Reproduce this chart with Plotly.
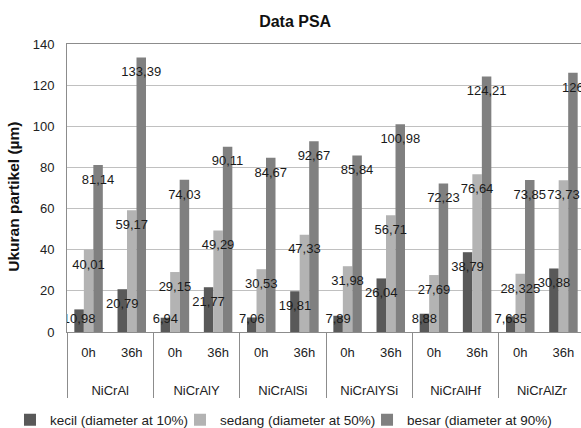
import plotly.graph_objects as go

groups = ["NiCrAl", "NiCrAlY", "NiCrAlSi", "NiCrAlYSi", "NiCrAlHf", "NiCrAlZr"]
times = ["0h", "36h"]

kecil = [10.98, 20.79, 6.94, 21.77, 7.06, 19.81, 7.89, 26.04, 8.88, 38.79, 7.635, 30.88]
sedang = [40.01, 59.17, 29.15, 49.29, 30.53, 47.33, 31.98, 56.71, 27.69, 76.64, 28.325, 73.73]
besar = [81.14, 133.39, 74.03, 90.11, 84.67, 92.67, 85.84, 100.98, 72.23, 124.21, 73.85, 126.0]

series_names = ["kecil (diameter at 10%)", "sedang (diameter at 50%)", "besar (diameter at 90%)"]
series_colors = ["#595959", "#b3b3b3", "#808080"]
series_keys = ["k", "s", "b"]
legend_ids = ["legend", "legend2", "legend3"]
legend_x = [0.0172, 0.3098, 0.6317]

x_outer = [g for g in groups for _ in times]
# a tall blank second line under the inner labels pushes the group labels lower
x_inner = [t + "<br><span style='font-size:40px'> </span>" for _ in groups for t in times]

def fmt(v):
    return f"{v:g}".replace(".", ",")

FONT = "Liberation Sans, Arial, sans-serif"
LABEL_DROP = 4.4   # labels sit a little below the top of each bar
LABEL_MIN = 9      # labels of very short bars stay just above the baseline
GAP = 0.34

fig = go.Figure()
for name, vals, col, key, lg in zip(series_names, [kecil, sedang, besar],
                                    series_colors, series_keys, legend_ids):
    fig.add_trace(go.Bar(
        x=[x_outer, x_inner], y=vals, name=name, offsetgroup=key, legend=lg,
        marker=dict(color=col, line=dict(width=0)),
        hoverinfo="y",
    ))
# value labels, drawn above every bar
for vals, key in zip([kecil, sedang, besar], series_keys):
    fig.add_trace(go.Scatter(
        x=[x_outer, x_inner], y=[max(v - LABEL_DROP, LABEL_MIN) for v in vals],
        offsetgroup=key, mode="text",
        text=[fmt(v) for v in vals], textposition="bottom center",
        textfont=dict(family=FONT, size=13, color="#1a1a1a"),
        showlegend=False, hoverinfo="skip", cliponaxis=True,
    ))

legend_common = dict(orientation="h", xanchor="left", xref="container",
                     y=0.019, yanchor="middle", yref="container",
                     font=dict(size=13.5, color="#222222"), itemwidth=30,
                     bgcolor="rgba(0,0,0,0)")

fig.update_layout(
    width=581, height=428,
    margin=dict(l=67, r=0, t=44, b=96, autoexpand=False),
    paper_bgcolor="white", plot_bgcolor="white",
    font=dict(family=FONT, size=13, color="#222222"),
    barmode="group", bargap=GAP, bargroupgap=0,
    scattermode="group", scattergap=GAP,
    title=dict(text="<b>Data PSA</b>", x=0.508, xanchor="center",
               y=0.949, yanchor="middle", font=dict(size=16, color="#111111")),
    showlegend=True,
    legend=dict(x=legend_x[0], **legend_common),
    legend2=dict(x=legend_x[1], **legend_common),
    legend3=dict(x=legend_x[2], **legend_common),
    annotations=[dict(
        text="<b>Ukuran partikel (µm)</b>", textangle=-90,
        xref="paper", yref="paper", x=-0.1031, y=0.4697,
        xanchor="center", yanchor="middle", showarrow=False,
        font=dict(size=15.5, color="#111111"),
    )],
)
fig.update_xaxes(
    type="multicategory", range=[-0.5, 11.407],
    showline=True, linecolor="#8c8c8c", linewidth=1, mirror=True,
    showgrid=False, showdividers=True, dividercolor="#8c8c8c", dividerwidth=1,
    tickfont=dict(size=13, color="#222222"), ticks="", ticklabelstandoff=8,
)
fig.update_yaxes(
    range=[0, 140], dtick=20, tick0=0,
    showline=True, linecolor="#8c8c8c", linewidth=1,
    showgrid=True, gridcolor="#c0c0c0", gridwidth=1, zeroline=False,
    ticks="", ticklabelstandoff=9,
    tickfont=dict(size=13, color="#222222"),
)

fig.write_html(
    "out.html",
    config={"displayModeBar": False},
    post_script="document.body.style.margin='0';document.body.style.overflow='hidden';",
)
